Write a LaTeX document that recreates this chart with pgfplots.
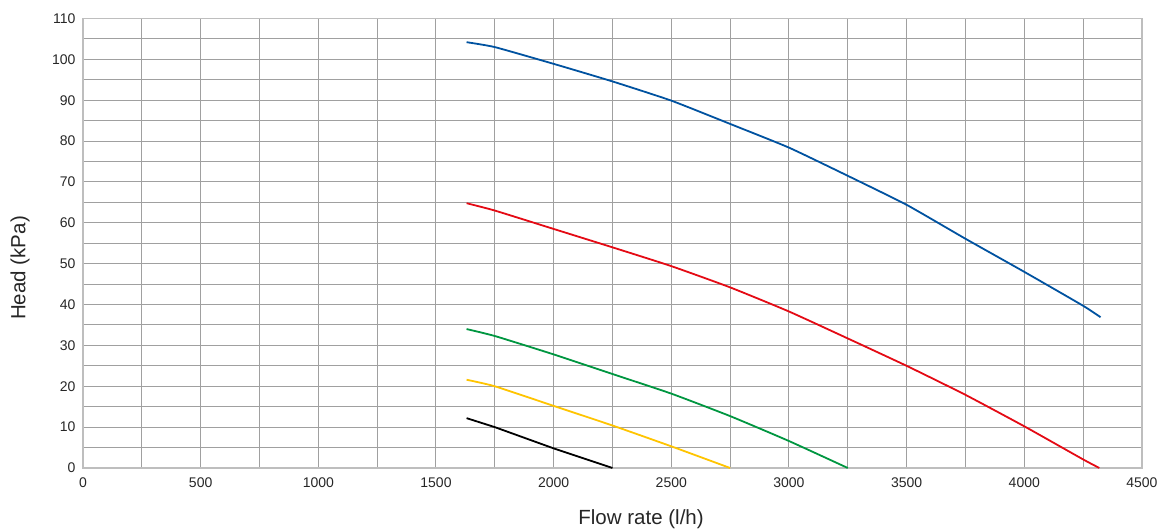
\documentclass[border=0pt]{standalone}
\usepackage{pgfplots}
\pgfplotsset{compat=1.18}
\usepackage{fontspec}
\setmainfont{Liberation Sans}

\definecolor{gridc}{RGB}{160,160,160}
\definecolor{framec}{RGB}{190,190,190}
\definecolor{cblue}{RGB}{0,82,160}
\definecolor{cred}{RGB}{228,10,20}
\definecolor{cgreen}{RGB}{0,150,64}
\definecolor{cyellow}{RGB}{255,196,0}

\begin{document}
\begin{tikzpicture}
\begin{axis}[
    scale only axis,
    width=1059pt, height=449.5pt,
    xmin=0, xmax=4500, ymin=0, ymax=110,
    xtick={0,500,...,4500},
    ytick={0,10,...,110},
    minor x tick num=1,
    minor y tick num=1,
    grid=both,
    major grid style={gridc, line width=1pt},
    minor grid style={gridc, line width=1pt},
    major tick length=0pt, minor tick length=0pt,
    axis line style={framec, line width=1.2pt},
    scaled ticks=false,
    /pgf/number format/1000 sep={},
    /pgf/number format/assume math mode=true,
    tick label style={font=\fontsize{14}{16}\selectfont, text=black!85},
    xticklabel style={yshift=-6pt},
    yticklabel style={xshift=-4pt},
    xlabel={Flow rate (l/h)},
    ylabel={Head (kPa)},
    label style={font=\fontsize{20.5}{24}\selectfont, text=black!85},
    xlabel style={at={(axis description cs:0.527,-0.1135)}, anchor=center},
    ylabel style={at={(axis description cs:-0.0595,0.445)}, anchor=center},
    clip=false,
  ]

% blue
\addplot[cblue, line width=1.8pt, smooth, tension=0.3] coordinates {
  (1630,104.2) (1750,103.0) (2000,98.9) (2250,94.6) (2500,89.9)
  (2750,84.2) (3000,78.4) (3250,71.5) (3500,64.4) (3750,56.1)
  (4000,48.0) (4250,39.7) (4324,36.9)
};
% red
\addplot[cred, line width=1.8pt, smooth, tension=0.3] coordinates {
  (1630,64.8) (1750,63.0) (2000,58.5) (2250,54.0) (2500,49.4)
  (2750,44.2) (3000,38.3) (3250,31.7) (3500,25.0) (3750,17.9)
  (4000,10.2) (4250,2.1) (4319,0)
};
% green
\addplot[cgreen, line width=1.8pt, smooth, tension=0.3] coordinates {
  (1630,34.0) (1750,32.3) (2000,27.8) (2250,23.0) (2500,18.2)
  (2750,12.7) (3000,6.6) (3250,0)
};
% yellow
\addplot[cyellow, line width=1.8pt, smooth, tension=0.3] coordinates {
  (1630,21.6) (1750,20.0) (2000,15.2) (2250,10.4) (2500,5.3) (2750,0)
};
% black
\addplot[black, line width=1.8pt] coordinates {
  (1630,12.2) (1750,10.0) (2000,4.8) (2250,0)
};
\end{axis}
\path (-83pt,-64pt) rectangle (1079pt,468pt);
\end{tikzpicture}
\end{document}
